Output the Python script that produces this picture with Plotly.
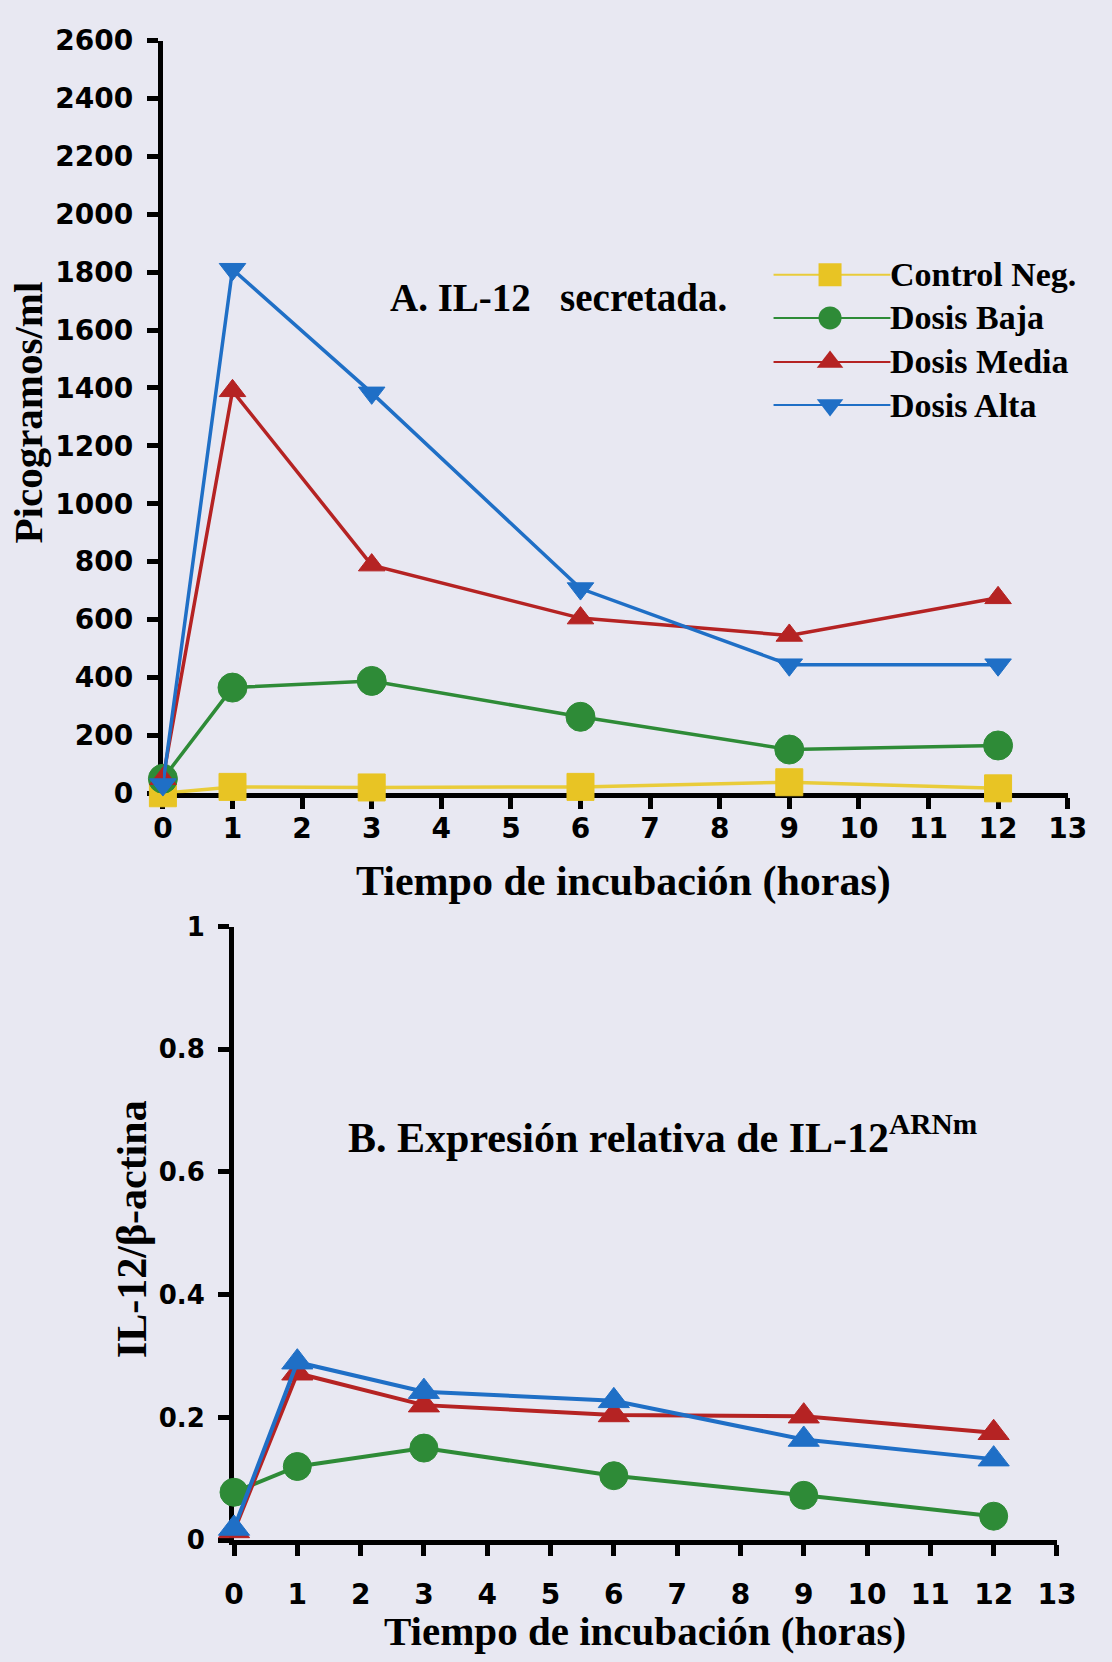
import plotly.graph_objects as go

W, H = 1112, 1662

# Incubation times (hours)
horas = [0, 1, 3, 6, 9, 12]

# A. IL-12 secretada (pg/ml)
control_neg_a = [0, 22, 20, 22, 38, 17]
dosis_baja_a = [50, 365, 388, 264, 151, 165]
dosis_media_a = [50, 1390, 788, 605, 545, 675]
dosis_alta_a = [30, 1810, 1383, 707, 444, 444]

# B. Expresión relativa de IL-12 (IL-12/β-actina)
dosis_baja_b = [0.078, 0.120, 0.150, 0.105, 0.073, 0.039]
dosis_media_b = [0.015, 0.272, 0.220, 0.204, 0.202, 0.175]
dosis_alta_b = [0.019, 0.290, 0.242, 0.227, 0.164, 0.132]

series_names = ["Control Neg.", "Dosis Baja", "Dosis Media", "Dosis Alta"]
x_ticks = list(range(0, 14))
y_ticks_a = list(range(0, 2601, 200))
y_ticks_b = [0, 0.2, 0.4, 0.6, 0.8, 1]
y_tick_text_b = ["0", "0.2", "0.4", "0.6", "0.8", "1"]

BG = "#E8E8F2"
COLORS = {
    "Control Neg.": "#E8C424",
    "Dosis Baja": "#2E8B37",
    "Dosis Media": "#B52323",
    "Dosis Alta": "#1F6FC6",
}
LINE_COLORS = {
    "Control Neg.": "#E9CC3A",
    "Dosis Baja": "#2E8B37",
    "Dosis Media": "#B52323",
    "Dosis Alta": "#1F6FC6",
}
SERIF = "Liberation Serif"
SANS = "DejaVu Sans"


def fx(px):
    return px / W


def fy(py):
    return 1 - py / H


fig = go.Figure()

# ---- Panel A ----
panel_a = [
    ("Control Neg.", control_neg_a, "square", 27),
    ("Dosis Baja", dosis_baja_a, "circle", 29),
    ("Dosis Media", dosis_media_a, "triangle-up", 23),
    ("Dosis Alta", dosis_alta_a, "triangle-down", 23),
]
for name, vals, sym, size in panel_a:
    fig.add_trace(go.Scatter(
        x=horas, y=vals, name=name, mode="lines+markers",
        line=dict(color=LINE_COLORS[name], width=3.5),
        marker=dict(symbol=sym, size=size, color=COLORS[name],
                    line=dict(width=1, color=COLORS[name])),
        cliponaxis=False, showlegend=False, xaxis="x", yaxis="y",
    ))

# ---- Panel B ----
panel_b = [
    ("Dosis Baja", dosis_baja_b, "circle", 28),
    ("Dosis Media", dosis_media_b, "triangle-up", 27),
    ("Dosis Alta", dosis_alta_b, "triangle-up", 27),
]
for name, vals, sym, size in panel_b:
    fig.add_trace(go.Scatter(
        x=horas, y=vals, name=name, mode="lines+markers",
        line=dict(color=LINE_COLORS[name], width=4),
        marker=dict(symbol=sym, size=size, color=COLORS[name],
                    line=dict(width=1, color=COLORS[name])),
        cliponaxis=False, showlegend=False, xaxis="x2", yaxis="y2",
    ))

# ---- Legend for panel A (drawn on a full-page overlay axis in pixel units) ----
legend_rows = [264, 308, 353, 397]
legend_symbols = ["square", "circle", "triangle-up", "triangle-down"]
for name, row, sym in zip(series_names, legend_rows, legend_symbols):
    fig.add_trace(go.Scatter(
        x=[784, 904], y=[row, row], mode="lines",
        line=dict(color=LINE_COLORS[name], width=2),
        showlegend=False, hoverinfo="skip", xaxis="x3", yaxis="y3",
    ))
    fig.add_trace(go.Scatter(
        x=[842], y=[row], mode="markers",
        marker=dict(symbol=sym, size=23, color=COLORS[name]),
        showlegend=False, hoverinfo="skip", xaxis="x3", yaxis="y3",
    ))

axis_common = dict(
    showline=True, linewidth=5, linecolor="black",
    ticks="outside", ticklen=11, tickwidth=5, tickcolor="black",
    showgrid=False, zeroline=False, layer="below traces",
)

annotations = [
    dict(text="A. IL-12&nbsp;&nbsp;&nbsp;secretada.", x=fx(388), y=fy(287),
         xanchor="left", yanchor="middle",
         font=dict(family=SERIF, size=39, color="black", weight="bold")),
    dict(text="Tiempo de incubación (horas)", x=fx(630), y=fy(883),
         xanchor="center", yanchor="middle",
         font=dict(family=SERIF, size=42, color="black", weight="bold")),
    dict(text="Picogramos/ml", x=fx(18), y=fy(405), textangle=-90,
         xanchor="center", yanchor="middle",
         font=dict(family=SERIF, size=41, color="black", weight="bold")),
    dict(text="B. Expresión relativa de IL-12<sup>ARNm</sup>", x=fx(345), y=fy(1141),
         xanchor="left", yanchor="middle",
         font=dict(family=SERIF, size=42, color="black", weight="bold")),
    dict(text="Tiempo de incubación (horas)", x=fx(652), y=fy(1648),
         xanchor="center", yanchor="middle",
         font=dict(family=SERIF, size=41, color="black", weight="bold")),
    dict(text="IL-12/β-actina", x=fx(126), y=fy(1238), textangle=-90,
         xanchor="center", yanchor="middle",
         font=dict(family=SERIF, size=42, color="black", weight="bold")),
]
for name, row in zip(series_names, legend_rows):
    annotations.append(dict(
        text=name, x=fx(902), y=fy(row), xanchor="left", yanchor="middle",
        font=dict(family=SERIF, size=34, color="black", weight="bold"),
    ))
for a in annotations:
    a.update(xref="paper", yref="paper", showarrow=False)

tick_font = dict(family=SANS, size=28, color="black", weight="bold")

fig.update_layout(
    width=W, height=H,
    margin=dict(l=0, r=0, t=0, b=0),
    paper_bgcolor=BG, plot_bgcolor="rgba(0,0,0,0)",
    showlegend=False,
    xaxis=dict(domain=[fx(157), fx(1086)], range=[0, 13], anchor="y",
               tickvals=x_ticks, tickfont=tick_font, ticklabelstandoff=-5,
               **axis_common),
    yaxis=dict(domain=[fy(793), fy(25)], range=[0, 2600], anchor="x",
               tickvals=y_ticks_a, tickfont=tick_font, ticklabelstandoff=8,
               **axis_common),
    xaxis2=dict(domain=[fx(230), fx(1075)], range=[0, 13], anchor="y2",
                tickvals=x_ticks, tickfont=tick_font, ticklabelstandoff=14,
                **axis_common),
    yaxis2=dict(domain=[fy(1555), fy(929)], range=[0, 1], anchor="x2",
                tickvals=y_ticks_b, ticktext=y_tick_text_b,
                tickfont=dict(family=SANS, size=26, color="black", weight="bold"),
                ticklabelstandoff=8, **axis_common),
    xaxis3=dict(domain=[0, 1], range=[0, W], visible=False, anchor="y3"),
    yaxis3=dict(domain=[0, 1], range=[H, 0], visible=False, anchor="x3"),
    annotations=annotations,
)

fig.write_html("out.html")
